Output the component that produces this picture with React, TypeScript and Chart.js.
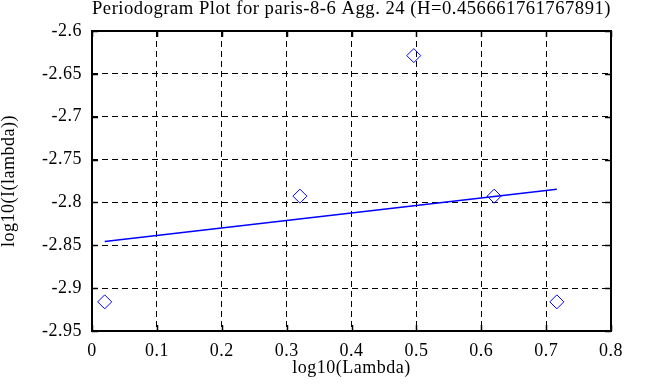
import React, { useEffect, useRef } from "react";
import { Chart, registerables } from "chart.js";

Chart.register(...registerables);

const TITLE = "Periodogram Plot for paris-8-6 Agg. 24 (H=0.456661761767891)";
const X_TITLE = "log10(Lambda)";
const Y_TITLE = "log10(I(lambda))";

// periodogram points
const pointX = [0.0196, 0.3205, 0.496, 0.6199, 0.7165];
const pointY = [-2.916, -2.7927, -2.6287, -2.7927, -2.916];

// least-squares fit line end points
const fitX = [0.0196, 0.7165];
const fitY = [-2.8455, -2.7846];

const xTicks = [0, 0.1, 0.2, 0.3, 0.4, 0.5, 0.6, 0.7, 0.8];
const yTicks = [-2.95, -2.9, -2.85, -2.8, -2.75, -2.7, -2.65, -2.6];

const FONT = "'Liberation Serif', 'Times New Roman', serif";
const BLUE = "#0000ff";

const fmt = (v: number) => String(Number(Number(v).toFixed(2)));

export default function App() {
  const ref = useRef<HTMLCanvasElement>(null);

  useEffect(() => {
    const canvas = ref.current;
    if (!canvas) return;

    const spacingPlugin = {
      id: "spacing",
      beforeLayout(c: any) {
        c.ctx.letterSpacing = "0.5px";
      },
      beforeDraw(c: any) {
        c.ctx.letterSpacing = "0.5px";
      },
    };

    const framePlugin = {
      id: "frame",
      beforeDatasetsDraw(c: any) {
        const { ctx, chartArea } = c;
        const { left, right, top, bottom } = chartArea;
        const xs = c.scales.x;
        const ys = c.scales.y;
        const tl = 6;
        ctx.save();
        ctx.strokeStyle = "#000";
        ctx.setLineDash([]);
        ctx.lineWidth = 1.5;
        ctx.beginPath();
        xTicks.forEach((v) => {
          const px = Math.round(xs.getPixelForValue(v)) + 0.5;
          ctx.moveTo(px, bottom);
          ctx.lineTo(px, bottom - tl);
          ctx.moveTo(px, top);
          ctx.lineTo(px, top + tl);
        });
        yTicks.forEach((v) => {
          const py = Math.round(ys.getPixelForValue(v)) + 0.5;
          ctx.moveTo(left, py);
          ctx.lineTo(left + tl, py);
          ctx.moveTo(right, py);
          ctx.lineTo(right - tl, py);
        });
        ctx.stroke();
        ctx.lineWidth = 2;
        ctx.strokeRect(left, top, right - left, bottom - top);
        ctx.restore();
      },
    };

    const chart = new Chart(canvas, {
      type: "scatter",
      data: {
        datasets: [
          {
            label: "points",
            data: pointX.map((x, i) => ({ x, y: pointY[i] })),
            pointStyle: "rectRot",
            pointRadius: 7,
            borderColor: BLUE,
            borderWidth: 1,
            backgroundColor: "rgba(0,0,0,0)",
            showLine: false,
          },
          {
            label: "fit",
            data: fitX.map((x, i) => ({ x, y: fitY[i] })),
            showLine: true,
            pointRadius: 0,
            borderColor: BLUE,
            borderWidth: 1.6,
            backgroundColor: BLUE,
          },
        ],
      },
      options: {
        animation: false,
        responsive: false,
        devicePixelRatio: 1,
        layout: { padding: { top: 0, right: 46, bottom: 0, left: 0 } },
        plugins: {
          legend: { display: false },
          tooltip: { enabled: false },
          title: {
            display: true,
            text: TITLE,
            fullSize: false,
            color: "#000",
            font: { family: FONT, size: 18.8, weight: "normal", lineHeight: 1 },
            padding: { top: 0, bottom: 12.2 },
          },
        },
        scales: {
          x: {
            type: "linear",
            min: 0,
            max: 0.8,
            afterBuildTicks: (s: any) => {
              s.ticks = xTicks.map((value) => ({ value }));
            },
            afterFit: (s: any) => {
              s.height = 56;
            },
            grid: { color: "#000", lineWidth: 1, drawTicks: false },
            border: { display: false, dash: [6, 4] },
            ticks: {
              color: "#000",
              padding: 9,
              font: { family: FONT, size: 18 },
              callback: (v: any) => fmt(v),
            },
            title: {
              display: true,
              text: X_TITLE,
              color: "#000",
              font: { family: FONT, size: 18, lineHeight: 1.2 },
              padding: { top: 0, bottom: 8 },
            },
          },
          y: {
            type: "linear",
            min: -2.95,
            max: -2.6,
            afterBuildTicks: (s: any) => {
              s.ticks = yTicks.map((value) => ({ value }));
            },
            afterFit: (s: any) => {
              s.width = 92;
            },
            grid: { color: "#000", lineWidth: 1, drawTicks: false },
            border: { display: false, dash: [6, 4] },
            ticks: {
              color: "#000",
              padding: 10,
              font: { family: FONT, size: 18 },
              callback: (v: any) => fmt(v),
            },
            title: {
              display: true,
              text: Y_TITLE,
              color: "#000",
              font: { family: FONT, size: 18, lineHeight: 1 },
              padding: { top: 0, bottom: 0 },
            },
          },
        },
      },
      plugins: [spacingPlugin, framePlugin],
    } as any);

    return () => chart.destroy();
  }, []);

  return (
    <div style={{ position: "absolute", left: 0, top: 0, width: 657, height: 387, background: "#fff" }}>
      <canvas ref={ref} width={657} height={387} style={{ display: "block" }} />
    </div>
  );
}
